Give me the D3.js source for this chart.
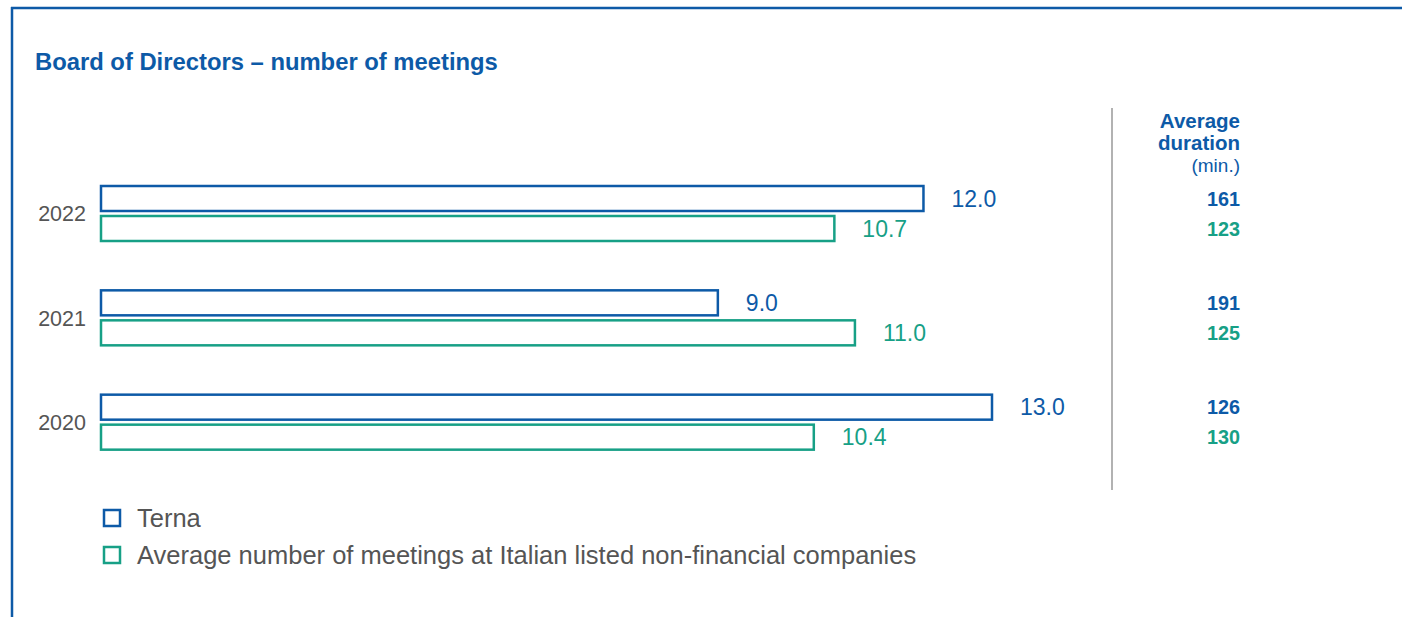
<!DOCTYPE html>
<html><head><meta charset="utf-8">
<script src="https://cdn.jsdelivr.net/npm/d3@7"></script>
<style>
html,body{margin:0;padding:0;background:#fff;}
svg{display:block;font-family:"Liberation Sans",Arial,Helvetica,sans-serif;}
</style></head><body>
<script>
const years = ["2022","2021","2020"];
const ternaMeetings = [12.0, 9.0, 13.0];
const avgMeetings = [10.7, 11.0, 10.4];
const ternaDuration = [161, 191, 126];
const avgDuration = [123, 125, 130];
const seriesNames = ["Terna", "Average number of meetings at Italian listed non-financial companies"];
const title = "Board of Directors – number of meetings";

const W = 1402, H = 617;
const BLUE = "#0d5aa7", GREEN = "#17a086", GREY = "#555";
const svg = d3.select("body").append("svg").attr("width", W).attr("height", H);

// frame
svg.append("line").attr("x1",11).attr("x2",W).attr("y1",8).attr("y2",8).attr("stroke",BLUE).attr("stroke-width",2.5);
svg.append("line").attr("x1",12).attr("x2",12).attr("y1",7).attr("y2",H).attr("stroke",BLUE).attr("stroke-width",2.5);

svg.append("text").attr("x",35).attr("y",70).attr("fill",BLUE).attr("font-weight","bold").attr("font-size",23.8).text(title);

const x = d3.scaleLinear().domain([0,13]).range([101,992]);
const y = d3.scaleBand().domain(years).range([182,495]).paddingInner(0).paddingOuter(0);
const barH = 25, gap = 5;

const g = svg.append("g");
years.forEach((yr,i)=>{
  const y0 = y(yr) + 4;
  const rows = [
    {v: ternaMeetings[i], c: BLUE, yy: y0},
    {v: avgMeetings[i], c: GREEN, yy: y0 + barH + gap}
  ];
  rows.forEach(r=>{
    g.append("rect").attr("x",x(0)).attr("y",r.yy).attr("width",x(r.v)-x(0)).attr("height",barH)
      .attr("fill","none").attr("stroke",r.c).attr("stroke-width",2.5);
    g.append("text").attr("x",x(r.v)+28).attr("y",r.yy+barH/2).attr("dy","0.36em")
      .attr("fill",r.c).attr("font-size",23).attr("font-weight",300).text(d3.format(".1f")(r.v));
  });
  g.append("text").attr("x",86).attr("y",y0+barH+gap/2).attr("dy","0.36em").attr("text-anchor","end")
    .attr("fill",GREY).attr("font-size",21.5).text(yr);
  // durations
  g.append("text").attr("x",1240).attr("y",y0+barH/2).attr("dy","0.36em").attr("text-anchor","end")
    .attr("fill",BLUE).attr("font-weight","bold").attr("font-size",19.8).text(ternaDuration[i]);
  g.append("text").attr("x",1240).attr("y",y0+barH+gap+barH/2).attr("dy","0.36em").attr("text-anchor","end")
    .attr("fill",GREEN).attr("font-weight","bold").attr("font-size",19.8).text(avgDuration[i]);
});

// divider
svg.append("line").attr("x1",1112).attr("x2",1112).attr("y1",108).attr("y2",490).attr("stroke","#999").attr("stroke-width",1.5);

// header
svg.append("text").attr("x",1240).attr("y",128).attr("text-anchor","end").attr("font-size",20.5)
  .attr("fill",BLUE).attr("font-weight","bold").text("Average");
svg.append("text").attr("x",1240).attr("y",150).attr("text-anchor","end").attr("font-size",20.5)
  .attr("fill",BLUE).attr("font-weight","bold").text("duration");
svg.append("text").attr("x",1240).attr("y",172).attr("text-anchor","end").attr("font-size",19)
  .attr("fill",BLUE).text("(min.)");

// legend
[BLUE,GREEN].forEach((c,i)=>{
  const ly = 518 + i*37;
  svg.append("rect").attr("x",104).attr("y",ly-8).attr("width",16).attr("height",16)
    .attr("fill","none").attr("stroke",c).attr("stroke-width",2.5);
  svg.append("text").attr("x",137).attr("y",ly).attr("dy","0.36em").attr("fill",GREY).attr("font-size",25.5).text(seriesNames[i]);
});
</script>
</body></html>
